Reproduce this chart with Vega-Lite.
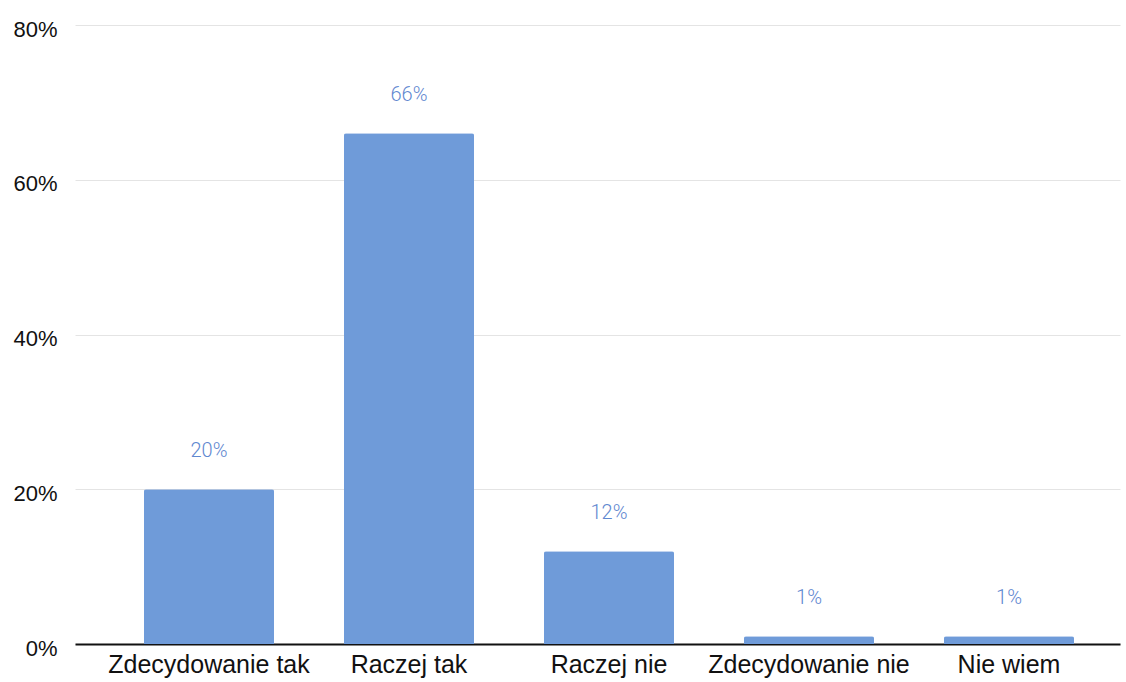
{
  "$schema": "https://vega.github.io/schema/vega-lite/v6.json",
  "autosize": {"type": "none"},
  "padding": {"left": 75, "top": 25, "right": 6, "bottom": 38},
  "width": 1045,
  "height": 619,
  "background": "white",
  "config": {"view": {"stroke": null}},
  "data": {"values": [
    {"answer": "Zdecydowanie tak", "pct": 20, "label": "20%"},
    {"answer": "Raczej tak", "pct": 66, "label": "66%"},
    {"answer": "Raczej nie", "pct": 12, "label": "12%"},
    {"answer": "Zdecydowanie nie", "pct": 1, "label": "1%"},
    {"answer": "Nie wiem", "pct": 1, "label": "1%"}
  ]},
  "encoding": {
    "x": {
      "field": "answer", "type": "nominal", "sort": null,
      "scale": {"paddingInner": 0.35, "paddingOuter": 0.2875, "align": 0.6},
      "axis": {"title": null, "labelAngle": 0, "labelLimit": 0, "labelOverlap": false, "labelFont": "Liberation Sans", "labelFontSize": 25, "labelColor": "#111111", "labelPadding": 8, "ticks": false, "domainColor": "#111111", "domainWidth": 2, "grid": false}
    },
    "y": {
      "field": "pct", "type": "quantitative",
      "scale": {"domain": [0, 80], "nice": false},
      "axis": {"title": null, "values": [0, 20, 40, 60, 80], "labelExpr": "datum.value + '%'", "labelFont": "Liberation Sans", "labelFontSize": 22, "labelColor": "#111111", "labelPadding": 18, "labelOffset": 4, "ticks": false, "domain": false, "gridColor": "#e4e4e4", "gridWidth": 1}
    }
  },
  "layer": [
    {"mark": {"type": "bar", "color": "#6f9bd9", "cornerRadiusTopLeft": 2, "cornerRadiusTopRight": 2}},
    {"mark": {"type": "text", "baseline": "middle", "dy": -38, "font": "Roboto", "fontWeight": 300, "fontSize": 20, "color": "#5f88d0"},
     "encoding": {"text": {"field": "label", "type": "nominal"}}}
  ]
}
